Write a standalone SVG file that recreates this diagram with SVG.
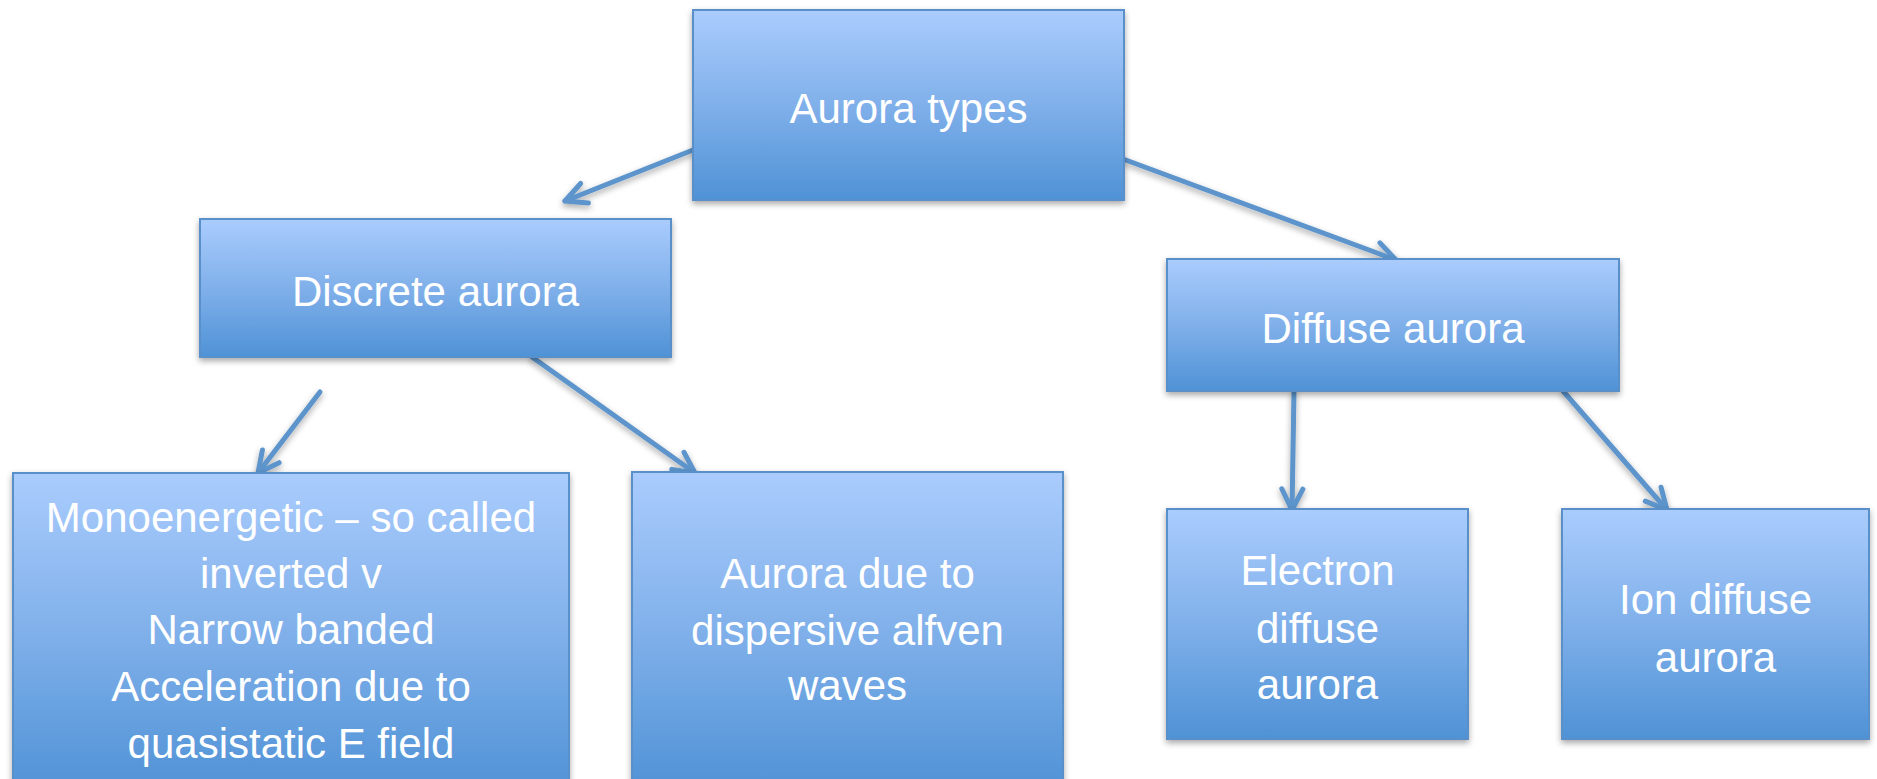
<svg xmlns="http://www.w3.org/2000/svg" width="1877" height="779" viewBox="0 0 1877 779">
  <defs>
    <linearGradient id="boxFill" x1="0" y1="0" x2="0" y2="1">
      <stop offset="0" stop-color="#AACCFD"/>
      <stop offset="0.5" stop-color="#80B0EA"/>
      <stop offset="1" stop-color="#4F92D6"/>
    </linearGradient>
    <filter id="shadow" x="-10%" y="-10%" width="120%" height="130%">
      <feDropShadow dx="0" dy="3" stdDeviation="3" flood-color="#000" flood-opacity="0.35"/>
    </filter>
    <marker id="arrowHead" markerUnits="userSpaceOnUse" viewBox="-26 -15 30 30" markerWidth="30" markerHeight="30" refX="0" refY="0" orient="auto" overflow="visible">
      <path d="M -21 -10.5 L 0 0 L -21 10.5" fill="none" stroke="#5B94CB" stroke-width="5" stroke-linecap="round" stroke-linejoin="round"/>
    </marker>
  </defs>
  <style>
    .box { fill: url(#boxFill); stroke: #5A90CA; stroke-width: 2; filter: url(#shadow); }
    .label { font-family: "Liberation Sans", Arial, sans-serif; font-size: 42px; fill: #FFFFFF; text-anchor: middle; }
    .link { fill: none; stroke: #5B94CB; stroke-width: 5; stroke-linecap: round; marker-end: url(#arrowHead); }
  </style>

  <rect width="1877" height="779" fill="#FFFFFF"/>

  <!-- connectors -->
  <g id="connectors" filter="url(#shadow)">
    <line class="link" x1="693" y1="150" x2="565" y2="201"/>
    <line class="link" x1="1123" y1="159" x2="1396" y2="260"/>
    <line class="link" x1="320" y1="392" x2="258" y2="473"/>
    <line class="link" x1="532" y1="357" x2="695" y2="473"/>
    <line class="link" x1="1294" y1="391" x2="1292" y2="510"/>
    <line class="link" x1="1563" y1="391" x2="1667" y2="510"/>
  </g>

  <!-- nodes -->
  <g id="aurora-types">
    <rect class="box" x="693" y="10" width="431" height="190"/>
    <text class="label" x="908.5" y="123">Aurora types</text>
  </g>

  <g id="discrete-aurora">
    <rect class="box" x="200" y="219" width="471" height="138"/>
    <text class="label" x="435.5" y="306">Discrete aurora</text>
  </g>

  <g id="diffuse-aurora">
    <rect class="box" x="1167" y="259" width="452" height="132"/>
    <text class="label" x="1393" y="343">Diffuse aurora</text>
  </g>

  <g id="monoenergetic">
    <rect class="box" x="13" y="473" width="556" height="320"/>
    <text class="label" x="291" y="532">Monoenergetic – so called</text>
    <text class="label" x="291" y="588">inverted v</text>
    <text class="label" x="291" y="644">Narrow banded</text>
    <text class="label" x="291" y="701">Acceleration due to</text>
    <text class="label" x="291" y="758">quasistatic E field</text>
  </g>

  <g id="alfven-aurora">
    <rect class="box" x="632" y="472" width="431" height="320"/>
    <text class="label" x="847.5" y="588">Aurora due to</text>
    <text class="label" x="847.5" y="645">dispersive alfven</text>
    <text class="label" x="847.5" y="700">waves</text>
  </g>

  <g id="electron-diffuse">
    <rect class="box" x="1167" y="509" width="301" height="230"/>
    <text class="label" x="1317.5" y="585">Electron</text>
    <text class="label" x="1317.5" y="643">diffuse</text>
    <text class="label" x="1317.5" y="699">aurora</text>
  </g>

  <g id="ion-diffuse">
    <rect class="box" x="1562" y="509" width="307" height="230"/>
    <text class="label" x="1715.5" y="614">Ion diffuse</text>
    <text class="label" x="1715.5" y="672">aurora</text>
  </g>
</svg>
